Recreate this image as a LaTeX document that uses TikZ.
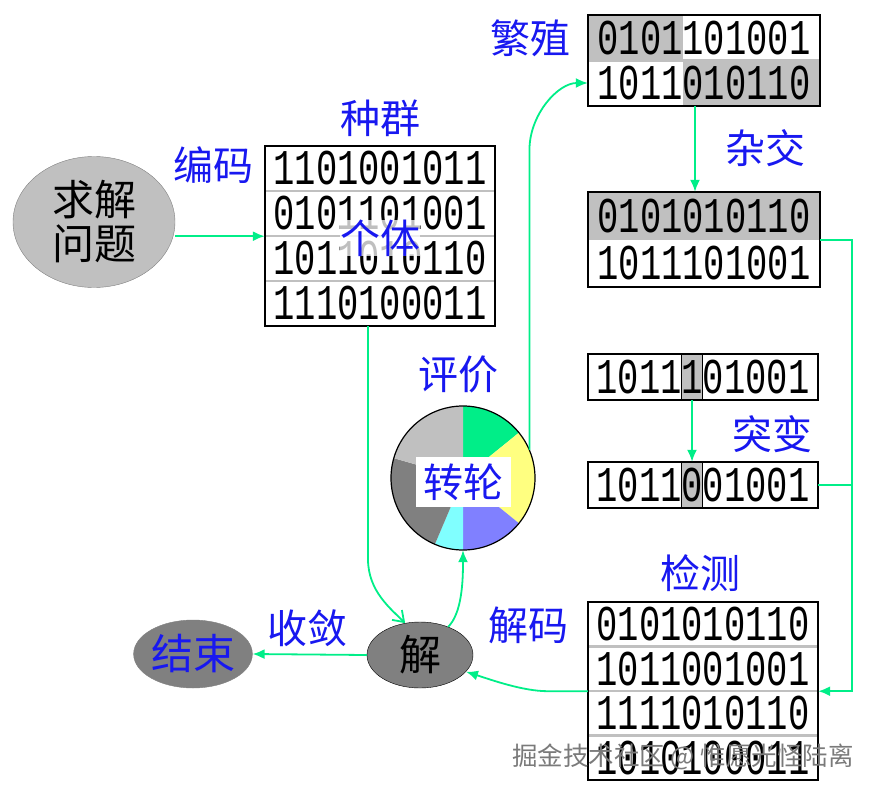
\documentclass[tikz,border=0pt]{standalone}
\usepackage{fontspec}
\usetikzlibrary{arrows.meta,positioning,shapes.geometric,calc}
\setmainfont{Noto Sans CJK SC}
\newfontfamily\bitfont[FakeStretch=0.71]{Liberation Mono}
\definecolor{Gc}{HTML}{00EE88}
\definecolor{Bc}{HTML}{1818F0}
\definecolor{Lg}{HTML}{C0C0C0}
\definecolor{Dg}{HTML}{808080}
\definecolor{Yc}{HTML}{FFFF80}
\definecolor{Pc}{HTML}{8080FF}
\definecolor{Cc}{HTML}{80FFFF}
\definecolor{Wm}{HTML}{7A7A7A}
\tikzset{
  lbl/.style={text=Bc, inner sep=0pt, font=\fontsize{40}{40}\selectfont},
  bits/.style={minimum width=230pt, minimum height=45pt, inner sep=0pt, font=\fontsize{50}{50}\bitfont},
  hbit/.style={minimum width=21pt, minimum height=45pt, inner sep=0pt, fill=Lg},
  tbl/.style={draw=black, line width=2pt},
  rowsep/.style={draw=Lg, line width=2.5pt},
  oval/.style={ellipse, inner sep=0pt, font=\fontsize{42}{44}\selectfont},
  flow/.style={draw=Gc, line width=1.8pt, -{Latex[length=12pt,width=10pt]}},
  wire/.style={draw=Gc, line width=1.8pt},
  wmark/.style={text=Wm, inner sep=0pt, font=\fontsize{25.5}{26}\selectfont},
}
\newcommand{\rowlines}[1]{%
  \foreach \a/\b in {#1} \draw[rowsep] (\a.south west) -- (\a.south east);}

\begin{document}
\begin{tikzpicture}[x=1pt, y=1pt]
  \useasboundingbox (0,0) rectangle (874,-794);
  % problem and population
  \node[oval, fill=Lg, draw=Dg, minimum width=162pt, minimum height=131pt, align=center] (ask) at (94,-222) {求解\\问题};
  \node[lbl] (code) at (213,-165) {编码};
  \node[lbl] (pop) at (380,-118) {种群};
  \node[bits] (p1) at (380,-168.5) {1101001011};
  \node[bits] (p2) at (380,-213.5) {0101101001};
  \node[bits] (p3) at (380,-258.5) {1011010110};
  \node[bits] (p4) at (380,-303.5) {1110100011};
  \rowlines{p1/p2,p2/p3,p3/p4}
  \draw[tbl] (p1.north west) rectangle (p4.south east);
  \node[lbl, fill=white, fill opacity=0.75, text opacity=1] (indiv) at (380,-238) {个体};
  % breeding
  \node[lbl] (breed) at (530,-38) {繁殖};
  \fill[Lg] (588,-15.5) rectangle (683,-60.5);
  \fill[Lg] (683,-60.5) rectangle (820,-105.5);
  \node[bits, minimum width=232pt] (b1) at (704,-38) {0101101001};
  \node[bits, minimum width=232pt] (b2) at (704,-83) {1011010110};
  \rowlines{b1/b2}
  \draw[tbl] (b1.north west) rectangle (b2.south east);
  % crossover
  \node[lbl] (cross) at (765,-148) {杂交};
  \node[bits, minimum width=232pt, minimum height=47.5pt, fill=Lg] (c1) at (704,-215.75) {0101010110};
  \node[bits, minimum width=232pt, minimum height=47.5pt] (c2) at (704,-263.25) {1011101001};
  \draw[tbl] (c1.north west) rectangle (c2.south east);
  % mutation
  \node[hbit, draw=black, line width=1.5pt] (m1x) at (692,-377) {};
  \node[bits] (m1) at (703,-377) {1011101001};
  \draw[tbl] (m1.north west) rectangle (m1.south east);
  \node[lbl] (mut) at (772,-434) {突变};
  \node[hbit, draw=black, line width=1.5pt] (m2x) at (692,-485) {};
  \node[bits] (m2) at (703,-485) {1011001001};
  \draw[tbl] (m2.north west) rectangle (m2.south east);
  % roulette wheel
  \node[lbl] (eval) at (458,-374) {评价};
  \node[circle, minimum size=144pt, inner sep=0pt] (wheel) at (463,-478) {};
  \foreach \s/\e/\c in {90/39/Gc, 39/-39/Yc, -39/-90/Pc, -90/-113/Cc, -113/-196/Dg, -196/-270/Lg}
    \fill[\c] (wheel.center) -- ++(\s:72) arc[start angle=\s, end angle=\e, radius=72] -- cycle;
  \draw[line width=1.2pt] (wheel.center) circle[radius=72];
  \node[lbl, fill=white, minimum width=95pt, minimum height=50pt] (turn) at (463,-482) {转轮};
  % decoding and end
  \node[oval, fill=Dg, draw=black, minimum width=106pt, minimum height=66pt] (sol) at (420,-655) {解};
  \node[oval, fill=Dg, draw=Dg, minimum width=113pt, minimum height=68pt, text=Bc] (stop) at (193,-654) {结束};
  \node[lbl] (conv) at (307,-628) {收敛};
  \node[lbl] (dec) at (528,-625) {解码};
  \node[lbl] (test) at (700,-573) {检测};
  \node[bits, minimum height=44.5pt] (d1) at (703,-624.25) {0101010110};
  \node[bits, minimum height=44.5pt] (d2) at (703,-668.75) {1011001001};
  \node[bits, minimum height=44.5pt] (d3) at (703,-713.25) {1111010110};
  \node[bits, minimum height=44.5pt] (d4) at (703,-757.75) {1010100011};
  \rowlines{d1/d2,d2/d3,d3/d4}
  \draw[tbl] (d1.north west) rectangle (d4.south east);
  % connectors
  \draw[flow] (ask.east |- p2.south west) -- (p2.south west);
  \draw[flow, -{Straight Barb[length=10pt,width=14pt]}] ($(p4.south)+(-12,0)$) -- ++(0,-233) .. controls +(0,-32) and +(-14,14) .. (sol.115);
  \draw[flow] (sol.45) .. controls +(14,14) and +(0,-30) .. (wheel.south);
  \draw[flow] (wheel.23) -- ++(0,300) .. controls +(0,35) and +(-30,0) .. (b2.west);
  \draw[flow] ($(b2.south)+(-9,0)$) -- ($(c1.north)+(-9,0)$);
  \draw[flow] (c1.south east) -- ++(32,0) |- (d2.south east);
  \draw[wire] (m2.east) -- ++(34,0);
  \draw[flow] (m1x.south) -- (m2x.north);
  \draw[flow] (d2.south west) -- ++(-40,0) .. controls +(-25,0) and +(25,-8) .. (sol.-20);
  \draw[flow] (sol.west) -- (stop.east);
  \node[wmark] (water) at (683,-757) {掘金技术社区 @ 惟愿光怪陆离};
\end{tikzpicture}
\end{document}
